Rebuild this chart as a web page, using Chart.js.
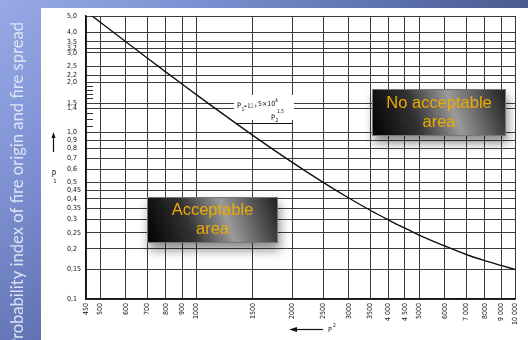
<!DOCTYPE html>
<html>
<head>
<meta charset="utf-8">
<script src="https://cdn.jsdelivr.net/npm/chart.js@4.4.1/dist/chart.umd.min.js"></script>
<style>
  html, body { margin: 0; padding: 0; width: 528px; height: 340px; overflow: hidden; }
  body { background: linear-gradient(135deg, #97a9e6 0%, #7e92d3 22%, #5d71b0 45%, #4a5a8c 62%, #36436f 100%); position: relative; }
  #panel { position: absolute; left: 41px; top: 8px; right: 0; bottom: 0; background: #ffffff; }
  #c { position: absolute; left: 0; top: 0; }
</style>
</head>
<body>
<div id="panel"></div>
<canvas id="c" width="528" height="340"></canvas>
<script>
// Permissible area diagram: P1 against P2 on log-log axes
const xTickValues = [450, 500, 600, 700, 800, 900, 1000, 1500, 2000, 2500, 3000, 3500, 4000, 4500, 5000, 6000, 7000, 8000, 9000, 10000];
const xTickLabels = ['450', '500', '600', '700', '800', '900', '1000', '1500', '2000', '2500', '3000', '3500', '4 000', '4 500', '5000', '6000', '7 000', '8000', '9 000', '10 000'];

const yTickValues = [5, 4, 3.5, 3.2, 3, 2.5, 2.2, 2, 1.5, 1.4, 1, 0.9, 0.8, 0.7, 0.6, 0.5, 0.45, 0.4, 0.35, 0.3, 0.25, 0.2, 0.15, 0.1];
const yTickLabels = ['5,0', '4,0', '3,5', '3,2', '3,0', '2,5', '2,2', '2,0', '1,5', '1,4', '1,0', '0,9', '0,8', '0,7', '0,6', '0,5', '0,45', '0,4', '0,35', '0,3', '0,25', '0,2', '0,15', '0,1'];
const yMinorTicks = [1.9, 1.8, 1.7, 1.6, 1.3, 1.2, 1.1];

// Limit curve P1 = 0,1 + 5x10^4 / P2^1,5
const curveP2 = [450, 500, 600, 700, 800, 900, 1000, 1500, 2000, 2500, 3000, 3500, 4000, 4500, 5000, 6000, 7000, 8000, 9000, 10000];
const curveP1 = [5.338, 4.572, 3.502, 2.800, 2.310, 1.952, 1.681, 0.961, 0.659, 0.500, 0.404, 0.341, 0.298, 0.266, 0.241, 0.208, 0.185, 0.170, 0.159, 0.150];

const sideTitle = 'Probability index of fire origin and fire spread';
const formula = { lead: 'P', leadSub: '1', mid: '= 0,1 +', num: '5×10', numSup: '4', den: 'P', denSub: '2', denSup: '1,5' };
const boxes = [
  { lines: ['No acceptable', 'area'] },
  { lines: ['Acceptable', 'area'] }
];

const tickFont = { family: 'DejaVu Sans Condensed', size: 7 };

function drawBox(ctx, x0, y0, w, h, lines) {
  ctx.save();
  ctx.shadowColor = 'rgba(0,0,0,0.45)';
  ctx.shadowBlur = 10;
  ctx.shadowOffsetX = 2;
  ctx.shadowOffsetY = 7;
  const g = ctx.createLinearGradient(x0, y0 + h, x0 + w, y0);
  g.addColorStop(0, '#000000');
  g.addColorStop(0.33, '#333333');
  g.addColorStop(0.6, '#9a9a9a');
  g.addColorStop(0.85, '#4a4a4a');
  g.addColorStop(1, '#1e1e1e');
  ctx.fillStyle = g;
  ctx.fillRect(x0, y0, w, h);
  ctx.restore();
  ctx.save();
  ctx.strokeStyle = '#777777';
  ctx.lineWidth = 1;
  ctx.strokeRect(x0 + 0.5, y0 + 0.5, w - 1, h - 1);
  ctx.fillStyle = '#ebab00';
  ctx.font = '16.5px "Liberation Sans", Arial, sans-serif';
  ctx.textAlign = 'center';
  ctx.textBaseline = 'middle';
  const cx = x0 + w / 2;
  const lh = 19;
  const cy = y0 + h / 2 - (lines.length - 1) * lh / 2;
  lines.forEach((t, i) => ctx.fillText(t, cx, cy + i * lh));
  ctx.restore();
}

const decorations = {
  id: 'decorations',
  beforeDatasetsDraw(chart) {
    const ctx = chart.ctx;
    // clear patch behind the formula
    ctx.save();
    ctx.fillStyle = '#ffffff';
    ctx.fillRect(234, 95, 60, 25);
    ctx.restore();
  },
  afterDraw(chart) {
    const { ctx, scales: { y }, chartArea: a } = chart;
    ctx.save();

    // short minor ticks on the P1 axis
    ctx.strokeStyle = '#333333';
    ctx.lineWidth = 1;
    yMinorTicks.forEach(v => {
      const py = Math.round(y.getPixelForValue(v)) + 0.5;
      ctx.beginPath();
      ctx.moveTo(a.left, py);
      ctx.lineTo(a.left + 7, py);
      ctx.stroke();
    });

    // side title on the blue band
    ctx.save();
    ctx.translate(18, 22);
    ctx.rotate(-Math.PI / 2);
    ctx.font = '16.6px Lato, "Open Sans", sans-serif';
    ctx.fillStyle = 'rgba(232,236,250,0.9)';
    ctx.textAlign = 'right';
    ctx.textBaseline = 'middle';
    ctx.fillText(sideTitle, 0, 0);
    ctx.restore();

    // axis title P1 with arrow
    ctx.strokeStyle = '#111111';
    ctx.fillStyle = '#111111';
    ctx.lineWidth = 1.2;
    ctx.beginPath();
    ctx.moveTo(53.5, 152);
    ctx.lineTo(53.5, 136);
    ctx.stroke();
    ctx.beginPath();
    ctx.moveTo(53.5, 132);
    ctx.lineTo(51.5, 138);
    ctx.lineTo(55.5, 138);
    ctx.closePath();
    ctx.fill();
    ctx.font = '8px "DejaVu Sans Condensed", sans-serif';
    ctx.textAlign = 'center';
    ctx.textBaseline = 'alphabetic';
    ctx.fillText('P', 54, 177);
    ctx.font = '6px "DejaVu Sans Condensed", sans-serif';
    ctx.fillText('1', 55, 183);

    // axis title P2 with arrow
    ctx.beginPath();
    ctx.moveTo(296, 329.5);
    ctx.lineTo(323, 329.5);
    ctx.stroke();
    ctx.beginPath();
    ctx.moveTo(289, 329.5);
    ctx.lineTo(297, 327);
    ctx.lineTo(297, 332);
    ctx.closePath();
    ctx.fill();
    ctx.font = '7px "DejaVu Sans Condensed", sans-serif';
    ctx.textAlign = 'left';
    ctx.fillText('P', 328, 332);
    ctx.font = '5px "DejaVu Sans Condensed", sans-serif';
    ctx.fillText('2', 333, 327);

    // formula
    ctx.textAlign = 'left';
    ctx.font = '7.5px "DejaVu Sans Condensed", sans-serif';
    ctx.fillText(formula.lead, 237, 108);
    ctx.font = '5px "DejaVu Sans Condensed", sans-serif';
    ctx.fillText(formula.leadSub, 241.5, 110.5);
    ctx.font = '6.5px "DejaVu Sans Condensed", sans-serif';
    ctx.fillText(formula.mid, 244, 108, 13);
    ctx.font = '7px "DejaVu Sans Condensed", sans-serif';
    ctx.fillText(formula.num, 258, 106, 18);
    ctx.font = '5px "DejaVu Sans Condensed", sans-serif';
    ctx.fillText(formula.numSup, 275, 101.5);
    ctx.font = '7.5px "DejaVu Sans Condensed", sans-serif';
    ctx.fillText(formula.den, 271, 120);
    ctx.font = '5px "DejaVu Sans Condensed", sans-serif';
    ctx.fillText(formula.denSub, 275.5, 122);
    ctx.fillText(formula.denSup, 277, 112.5, 8);
    ctx.lineWidth = 1;
    ctx.beginPath();
    ctx.moveTo(237, 123.5);
    ctx.lineTo(293, 123.5);
    ctx.stroke();

    ctx.restore();

    // labelled area boxes
    drawBox(ctx, 372, 89, 134, 47, boxes[0].lines);
    drawBox(ctx, 147, 197, 131, 46, boxes[1].lines);
  }
};

new Chart(document.getElementById('c'), {
  type: 'line',
  data: {
    datasets: [{
      data: curveP2.map((v, i) => ({ x: v, y: curveP1[i] })),
      borderColor: '#111111',
      borderWidth: 1.4,
      pointRadius: 0,
      cubicInterpolationMode: 'monotone',
      fill: false
    }]
  },
  options: {
    responsive: false,
    animation: false,
    devicePixelRatio: 1,
    layout: { padding: { left: 67, right: 5, top: 16, bottom: 0 } },
    plugins: { legend: { display: false }, tooltip: { enabled: false } },
    scales: {
      x: {
        type: 'logarithmic',
        min: 450,
        max: 10000,
        afterBuildTicks: s => { s.ticks = xTickValues.map(v => ({ value: v })); },
        afterFit: s => { s.height = 41; },
        ticks: {
          autoSkip: false,
          minRotation: 90,
          maxRotation: 90,
          padding: 4,
          color: '#111111',
          font: tickFont,
          callback: (v, i) => xTickLabels[i]
        },
        grid: { color: '#3c3c3c', lineWidth: 1, drawTicks: false },
        border: { color: '#111111', width: 1.5 }
      },
      y: {
        type: 'logarithmic',
        min: 0.1,
        max: 5,
        afterBuildTicks: s => { s.ticks = yTickValues.map(v => ({ value: v })); },
        afterFit: s => { s.width = 19; },
        ticks: {
          autoSkip: false,
          crossAlign: 'far',
          padding: 2,
          color: '#111111',
          font: tickFont,
          callback: (v, i) => yTickLabels[i]
        },
        grid: { color: '#3c3c3c', lineWidth: 1, drawTicks: false },
        border: { color: '#111111', width: 1.5 }
      }
    }
  },
  plugins: [decorations]
});
</script>
</body>
</html>
